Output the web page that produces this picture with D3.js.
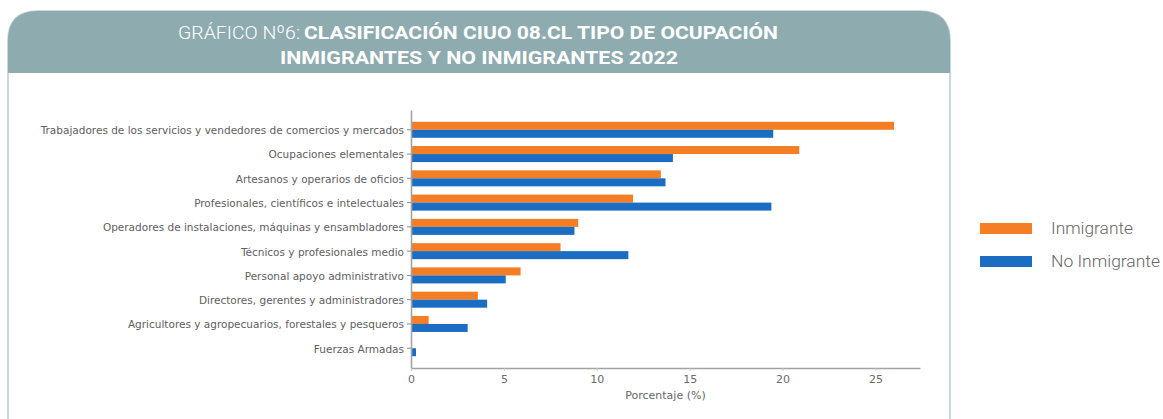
<!DOCTYPE html>
<html>
<head>
<meta charset="utf-8">
<script src="https://cdn.jsdelivr.net/npm/d3@7"></script>
<style>
  body { margin: 0; background: #fff; }
  svg { display: block; }
  .y-axis text { font-family: 'DejaVu Sans', sans-serif; font-size: 10.5px; fill: #606060; }
  .x-axis text { font-family: 'DejaVu Sans', sans-serif; font-size: 11px; fill: #6a6a6a; }
</style>
</head>
<body>
<div id="chart"></div>
<script>
const categories = [
  'Trabajadores de los servicios y vendedores de comercios y mercados',
  'Ocupaciones elementales',
  'Artesanos y operarios de oficios',
  'Profesionales, científicos e intelectuales',
  'Operadores de instalaciones, máquinas y ensambladores',
  'Técnicos y profesionales medio',
  'Personal apoyo administrativo',
  'Directores, gerentes y administradores',
  'Agricultores y agropecuarios, forestales y pesqueros',
  'Fuerzas Armadas',
];
const inmigrante = [26.0, 20.9, 13.45, 11.95, 9.0, 8.05, 5.9, 3.6, 0.95, 0];
const noInmigrante = [19.5, 14.1, 13.7, 19.4, 8.8, 11.7, 5.1, 4.1, 3.05, 0.27];
const xTicks = [0, 5, 10, 15, 20, 25];
const seriesNames = ['Inmigrante', 'No Inmigrante'];
const colors = ['#f57e25', '#1a6dc3'];

const svgWidth = 1163;
const svgHeight = 419;

const margin = { top: 110, right: 243, bottom: 51, left: 411 };

const svg = d3
  .select('#chart')
  .append('svg')
  .attr('width', svgWidth)
  .attr('height', svgHeight);

// header panel with rounded top corners + side borders
const panelL = 8;
const panelR = 950;
const panelT = 11;
const headerB = 73;
const rad = 30;

svg
  .append('path')
  .attr(
    'd',
    `M${panelL},${svgHeight + 2} L${panelL},${panelT + rad} Q${panelL},${panelT} ${panelL + rad},${panelT} ` +
      `L${panelR - rad},${panelT} Q${panelR},${panelT} ${panelR},${panelT + rad} L${panelR},${svgHeight + 2}`
  )
  .attr('fill', 'none')
  .attr('stroke', '#bccfd2')
  .attr('stroke-width', 1.6);

svg
  .append('path')
  .attr(
    'd',
    `M${panelL},${headerB} L${panelL},${panelT + rad} Q${panelL},${panelT} ${panelL + rad},${panelT} ` +
      `L${panelR - rad},${panelT} Q${panelR},${panelT} ${panelR},${panelT + rad} L${panelR},${headerB} Z`
  )
  .attr('fill', '#8eabb0');

const titleFont = "Roboto, 'Liberation Sans', sans-serif";

svg
  .append('text')
  .attr('x', 178)
  .attr('y', 39)
  .attr('font-family', titleFont)
  .attr('font-size', 19)
  .attr('font-weight', 300)
  .attr('fill', '#fff')
  .attr('textLength', 122)
  .attr('lengthAdjust', 'spacingAndGlyphs')
  .text('GRÁFICO Nº6:');

svg
  .append('text')
  .attr('x', 304)
  .attr('y', 39)
  .attr('font-family', titleFont)
  .attr('font-size', 19)
  .attr('font-weight', 700)
  .attr('fill', '#fff')
  .attr('textLength', 474)
  .attr('lengthAdjust', 'spacingAndGlyphs')
  .text('CLASIFICACIÓN CIUO 08.CL TIPO DE OCUPACIÓN');

svg
  .append('text')
  .attr('x', 280)
  .attr('y', 64)
  .attr('font-family', titleFont)
  .attr('font-size', 19)
  .attr('font-weight', 700)
  .attr('fill', '#fff')
  .attr('textLength', 398)
  .attr('lengthAdjust', 'spacingAndGlyphs')
  .text('INMIGRANTES Y NO INMIGRANTES 2022');

const chartWidth = svgWidth - margin.left - margin.right;
const chartHeight = svgHeight - margin.top - margin.bottom;

const chartGroup = svg
  .append('g')
  .attr('transform', `translate(${margin.left}, ${margin.top})`);

const data = categories.map((c, i) => ({
  category: c,
  values: [inmigrante[i], noInmigrante[i]],
}));

const xLinearScale = d3.scaleLinear().domain([0, 27.4]).range([0, chartWidth]);

const yBand = d3
  .scaleBand()
  .domain(categories)
  .range([0, chartHeight])
  .paddingInner(0.34)
  .paddingOuter(0.485);

const ySub = d3
  .scaleBand()
  .domain([0, 1])
  .range([0, yBand.bandwidth()]);

const groups = chartGroup
  .selectAll('.group')
  .data(data)
  .enter()
  .append('g')
  .attr('transform', (d) => `translate(0, ${yBand(d.category)})`);

groups
  .selectAll('rect')
  .data((d) => d.values)
  .enter()
  .append('rect')
  .attr('x', 0)
  .attr('y', (d, i) => ySub(i))
  .attr('width', (d) => xLinearScale(d))
  .attr('height', ySub.bandwidth())
  .attr('fill', (d, i) => colors[i]);

const leftAxis = d3.axisLeft(yBand).tickSize(4).tickSizeOuter(0).tickPadding(3);
const bottomAxis = d3
  .axisBottom(xLinearScale)
  .tickValues(xTicks)
  .tickSize(3)
  .tickSizeOuter(0)
  .tickPadding(4);

const yAxis = chartGroup.append('g').classed('y-axis', true).call(leftAxis);
yAxis.select('.domain').attr('stroke', '#a3a3a3').attr('stroke-width', 1.6);
yAxis.selectAll('.tick line').attr('stroke', '#8a8a8a');
yAxis.selectAll('.tick text').attr('dy', '0.42em');

const xAxis = chartGroup
  .append('g')
  .classed('x-axis', true)
  .attr('transform', `translate(0, ${chartHeight})`)
  .call(bottomAxis);
xAxis.select('.domain').attr('stroke', '#a3a3a3').attr('stroke-width', 1.6);
xAxis.selectAll('.tick line').attr('stroke', '#c8c8c8');

chartGroup
  .append('text')
  .attr('x', chartWidth / 2)
  .attr('y', chartHeight + 31)
  .attr('text-anchor', 'middle')
  .attr('font-family', "'DejaVu Sans', sans-serif")
  .attr('font-size', 11)
  .attr('fill', '#666')
  .text('Porcentaje (%)');

// legend
const legend = svg
  .selectAll('.legend')
  .data(seriesNames)
  .enter()
  .append('g')
  .attr('transform', (d, i) => `translate(980, ${223 + i * 33})`);

legend
  .append('rect')
  .attr('width', 52)
  .attr('height', 11)
  .attr('fill', (d, i) => colors[i]);

legend
  .append('text')
  .attr('x', 71)
  .attr('y', 11)
  .attr('font-family', titleFont)
  .attr('font-size', 16)
  .attr('font-weight', 300)
  .attr('fill', '#666')
  .attr('textLength', (d, i) => (i === 0 ? 82 : 109))
  .attr('lengthAdjust', 'spacingAndGlyphs')
  .text((d) => d);
</script>
</body>
</html>
